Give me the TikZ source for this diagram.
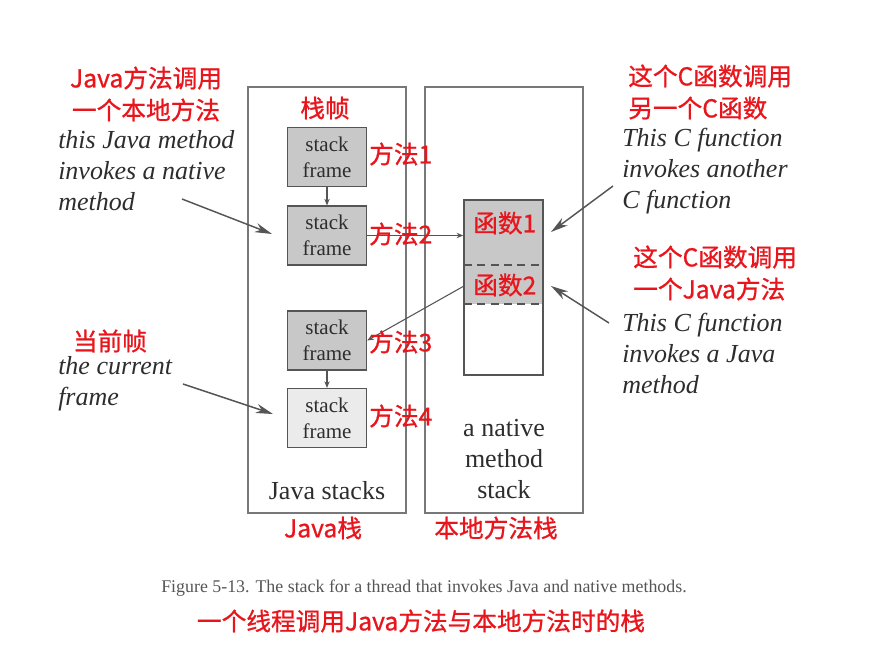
\documentclass[tikz,border=0pt]{standalone}
\usepackage{fontspec}
\setmainfont{Liberation Serif}
\newfontfamily\cjk[FakeBold=0.9]{Noto Sans CJK SC}
\usetikzlibrary{arrows.meta}
\definecolor{redlab}{RGB}{232,22,28}
\definecolor{txt}{RGB}{45,45,45}
\definecolor{edge}{RGB}{120,120,120}
\definecolor{dark}{RGB}{85,85,85}
\definecolor{fillgray}{RGB}{200,200,200}
\definecolor{filllight}{RGB}{235,235,235}
\tikzset{
  outer/.style={draw=edge, line width=1.1pt, minimum width=118.5pt, minimum height=319.5pt, inner sep=0pt},
  sframe/.style={draw=dark, line width=1.1pt, fill=fillgray, minimum width=59.25pt, minimum height=44pt, inner sep=0pt, align=center, text=txt, font=\fontsize{15.75}{19.5}\selectfont},
  redtxt/.style={text=redlab, inner sep=0pt, font=\cjk\fontsize{18.5}{24}\selectfont},
  note/.style={text=txt, inner sep=0pt, align=left, anchor=west, font=\fontsize{19.5}{23.25}\selectfont\itshape},
  bigtxt/.style={text=txt, inner sep=0pt, align=center, font=\fontsize{19.5}{23.25}\selectfont},
  bigarrow/.style={draw=dark, line width=1.1pt, -{Stealth[length=13pt,width=7pt]}},
  smallarrow/.style={draw=dark, line width=0.8pt, -{Stealth[length=5pt,width=4pt]}},
}
\begin{document}
\begin{tikzpicture}[x=0.75pt,y=-0.75pt]
\useasboundingbox (0,0) rectangle (876,646);
% outer boxes
\node[outer] (jbox) at (327,300) {};
\node[outer] (nbox) at (504,300) {};
% stack frames
\node[sframe] (f1) at (327,157) {stack\\frame};
\node[sframe] (f2) at (327,235.5) {stack\\frame};
\node[sframe] (f3) at (327,340.5) {stack\\frame};
\node[sframe, fill=filllight] (f4) at (327,418) {stack\\frame};
\draw[smallarrow] (f1.south) -- (f2.north);
\draw[smallarrow] (f3.south) -- (f4.north);
% native stack
\fill[fillgray] (464,200) rectangle (543,304);
\node[draw=dark, line width=1.1pt, minimum width=59.25pt, minimum height=131.25pt, inner sep=0pt] (nat) at (503.5,287.5) {};
\draw[dark, line width=1.6pt, dash pattern=on 6pt off 4pt] (464,265) -- (543,265);
\draw[dark, line width=1.6pt, dash pattern=on 6pt off 4pt] (464,304) -- (543,304);
\coordinate (n2) at (464,286);
\draw[smallarrow] (f2.east) -- (f2.east -| nat.west);
\draw[smallarrow] (n2) -- (f3.east);
% texts in boxes
\node[bigtxt] (jlab) at (327,491) {Java stacks};
\node[bigtxt] (nlab) at (504,459) {a native\\method\\stack};
% notes
\node[note] (n1) at (58,171) {this Java method\\invokes a native\\method};
\node[note] (n3) at (58,384) {the current\\frame};
\node[note] (n4) at (622,171) {This C function\\invokes another\\C function};
\node[note] (n5) at (622,353) {This C function\\invokes a Java\\method};
\coordinate (t1) at (182,199);
\coordinate (h1) at (272,234);
\coordinate (t2) at (183,384);
\coordinate (h2) at (273,414);
\coordinate (t3) at (613,186);
\coordinate (h3) at (551,232);
\coordinate (t4) at (609,323);
\coordinate (h4) at (551,286);
\draw[bigarrow] (t1) -- (h1);
\draw[bigarrow] (t2) -- (h2);
\draw[bigarrow] (t3) -- (h3);
\draw[bigarrow] (t4) -- (h4);
% red labels
\node[redtxt, align=center] (r1) at (146,94) {Java方法调用\\一个本地方法};
\node[redtxt] (r2) at (325,108) {栈帧};
\node[redtxt, anchor=west] (r3) at (369,154) {方法1};
\node[redtxt, anchor=west] (r4) at (369,234) {方法2};
\node[redtxt, anchor=west] (r5) at (369,342) {方法3};
\node[redtxt, anchor=west] (r6) at (369,416) {方法4};
\node[redtxt, anchor=west] (r7) at (473,223) {函数1};
\node[redtxt, anchor=west] (r8) at (473,285) {函数2};
\node[redtxt, align=left, anchor=west] (r9) at (628,92) {这个C函数调用\\另一个C函数};
\node[redtxt, align=left, anchor=west] (r10) at (633,273) {这个C函数调用\\一个Java方法};
\node[redtxt] (r11) at (110,341) {当前帧};
\node[redtxt] (r12) at (323,528) {Java栈};
\node[redtxt] (r13) at (496,528) {本地方法栈};
% captions
\node[text=dark, inner sep=0pt, font=\fontsize{13.4}{16}\selectfont] (cap) at (424,588) {Figure 5-13. The stack for a thread that invokes Java and native methods.};
\node[redtxt] (rcap) at (421,621) {一个线程调用Java方法与本地方法时的栈};
\end{tikzpicture}
\end{document}
